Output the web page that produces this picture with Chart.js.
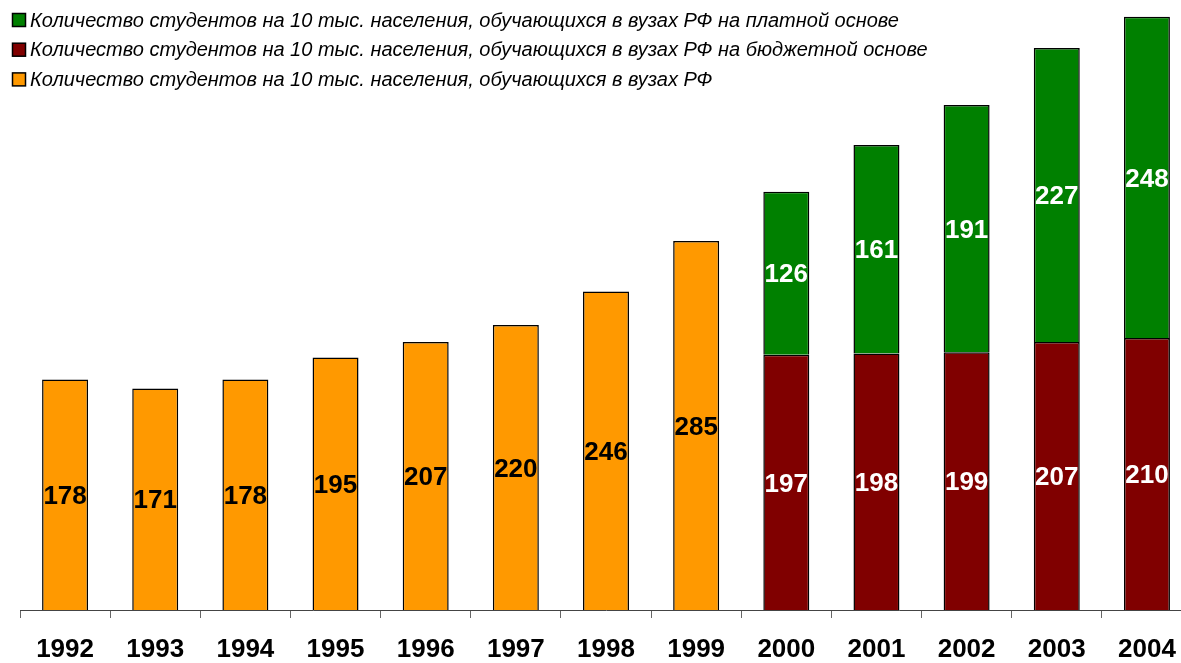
<!DOCTYPE html>
<html>
<head>
    <title>Студенты вузов РФ</title>
    <script src="https://cdn.jsdelivr.net/npm/chart.js"></script>
    <style>
        html, body {
            margin: 0;
            padding: 0;
            background: white;
            overflow: hidden;
        }
        .chart-container {
            position: relative;
            width: 1194px;
            height: 663px;
        }
    </style>
</head>
<body>
    <div class="chart-container">
        <canvas id="myChart"></canvas>
    </div>
    <script>
        // years on the x axis
        const years = ['1992', '1993', '1994', '1995', '1996', '1997', '1998',
                       '1999', '2000', '2001', '2002', '2003', '2004'];

        // students per 10 000 people, total (only until 1999)
        const totalValues = [178, 171, 178, 195, 207, 220, 246, 285,
                             null, null, null, null, null];
        // budget places (from 2000)
        const budgetValues = [null, null, null, null, null, null, null, null,
                              197, 198, 199, 207, 210];
        // paid places (from 2000)
        const paidValues = [null, null, null, null, null, null, null, null,
                            126, 161, 191, 227, 248];

        const labelTotal = 'Количество студентов на 10 тыс. населения, обучающихся в вузах РФ';
        const labelBudget = 'Количество студентов на 10 тыс. населения, обучающихся в вузах РФ на бюджетной основе';
        const labelPaid = 'Количество студентов на 10 тыс. населения, обучающихся в вузах РФ на платной основе';

        const FONT = '"Liberation Sans", Arial, sans-serif';

        // values written in the middle of each bar
        const valueLabels = {
            id: 'valueLabels',
            afterDatasetsDraw(chart) {
                const ctx = chart.ctx;
                ctx.save();
                ctx.font = 'bold 26px ' + FONT;
                ctx.textAlign = 'center';
                ctx.textBaseline = 'middle';
                chart.data.datasets.forEach((ds, i) => {
                    const meta = chart.getDatasetMeta(i);
                    meta.data.forEach((bar, j) => {
                        const v = ds.data[j];
                        if (v === null || v === undefined) return;
                        const mid = (bar.y + bar.base) / 2;
                        ctx.fillStyle = ds.labelColor;
                        ctx.fillText(String(v), bar.x, mid + 2);
                    });
                });
                ctx.restore();
            }
        };

        // legend in the top left corner, outside of the layout
        const cornerLegend = {
            id: 'cornerLegend',
            afterDraw(chart) {
                const ctx = chart.ctx;
                ctx.save();
                ctx.font = 'italic 20px ' + FONT;
                ctx.textBaseline = 'middle';
                ctx.textAlign = 'left';
                const items = chart.data.datasets.slice().reverse();
                items.forEach((ds, k) => {
                    const cy = 20 + k * 29.7;
                    ctx.fillStyle = ds.backgroundColor;
                    ctx.fillRect(12.5, cy - 6.5, 13, 13);
                    ctx.strokeStyle = '#000';
                    ctx.lineWidth = 1.5;
                    ctx.strokeRect(12.5, cy - 6.5, 13, 13);
                    ctx.fillStyle = '#000';
                    ctx.fillText(ds.label, 30, cy + 1);
                });
                ctx.restore();
            }
        };

        const ctx = document.getElementById('myChart').getContext('2d');
        new Chart(ctx, {
            type: 'bar',
            data: {
                labels: years,
                datasets: [
                    {
                        label: labelTotal,
                        data: totalValues,
                        backgroundColor: '#FF9900',
                        borderColor: '#000000',
                        borderWidth: 1.5,
                        labelColor: '#000000'
                    },
                    {
                        label: labelBudget,
                        data: budgetValues,
                        backgroundColor: '#800000',
                        borderColor: '#000000',
                        borderWidth: 1.5,
                        labelColor: '#FFFFFF'
                    },
                    {
                        label: labelPaid,
                        data: paidValues,
                        backgroundColor: '#008000',
                        borderColor: '#000000',
                        borderWidth: 1.5,
                        labelColor: '#FFFFFF'
                    }
                ]
            },
            options: {
                responsive: true,
                maintainAspectRatio: false,
                animation: false,
                layout: {
                    padding: { left: 20, right: 2, top: 0, bottom: 0 }
                },
                datasets: {
                    bar: {
                        categoryPercentage: 1,
                        barPercentage: 0.51
                    }
                },
                plugins: {
                    legend: { display: false },
                    tooltip: { enabled: false }
                },
                scales: {
                    x: {
                        stacked: true,
                        afterFit: (scale) => { scale.height = 53; },
                        border: {
                            display: true,
                            color: '#444444',
                            width: 1
                        },
                        grid: {
                            offset: true,
                            drawOnChartArea: false,
                            drawTicks: true,
                            tickLength: 8,
                            color: '#666666'
                        },
                        ticks: {
                            color: '#000000',
                            padding: 16,
                            maxRotation: 0,
                            autoSkip: false,
                            font: { family: FONT, size: 26, weight: 'bold' }
                        }
                    },
                    y: {
                        stacked: true,
                        display: false,
                        min: 0,
                        max: 471
                    }
                }
            },
            plugins: [valueLabels, cornerLegend]
        });
    </script>
</body>
</html>
